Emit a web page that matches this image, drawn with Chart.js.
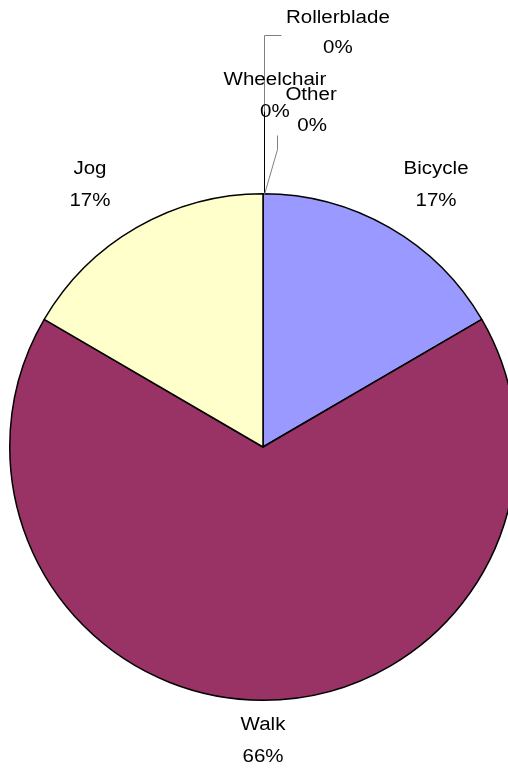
<!DOCTYPE html>
<html>
<head>
<meta charset="utf-8">
<script src="https://cdn.jsdelivr.net/npm/chart.js@4"></script>
<style>
html,body{margin:0;padding:0;background:#fff;overflow:hidden;width:508px;height:773px;}
canvas{display:block;}
</style>
</head>
<body>
<canvas id="c" width="526" height="773"></canvas>
<script>
const categories = ["Bicycle", "Walk", "Jog", "Wheelchair", "Rollerblade", "Other"];
const values = [16.6, 66.8, 16.6, 0, 0, 0];
const percentLabels = ["17%", "66%", "17%", "0%", "0%", "0%"];
const colors = ["#9999FF", "#993366", "#FFFFCC", "#CCFFFF", "#660066", "#FF8080"];

// label placement relative to pie centre, in radius units (name line, value line)
const labelPlacement = [
  {nx: 0.684, ny: -1.098, vx: 0.684, vy: -0.972},
  {nx: 0.0, ny: 1.098, vx: 0.0, vy: 1.225},
  {nx: -0.684, ny: -1.098, vx: -0.684, vy: -0.972},
  {nx: 0.047, ny: -1.451, vx: 0.047, vy: -1.324},
  {nx: 0.296, ny: -1.696, vx: 0.296, vy: -1.577},
  {nx: 0.190, ny: -1.391, vx: 0.194, vy: -1.269}
];
// leader lines (polyline points relative to centre, radius units)
const leaders = [
  {color: "#808080", pts: [[0.004, -1.0], [0.004, -1.628], [0.071, -1.628]]},
  {color: "#000000", pts: [[0.004, -1.0], [0.004, -1.33]]},
  {color: "#808080", pts: [[0.004, -1.0], [0.055, -1.178], [0.055, -1.233]]}
];

const labelPlugin = {
  id: 'excelLabels',
  afterDatasetsDraw(chart) {
    const ctx = chart.ctx;
    const meta = chart.getDatasetMeta(0);
    const arc0 = meta.data[0];
    const cx = arc0.x, cy = arc0.y, r = 253;
    ctx.save();
    leaders.forEach(l => {
      ctx.beginPath();
      ctx.strokeStyle = l.color;
      ctx.lineWidth = 1;
      l.pts.forEach((p, i) => {
        const x = Math.round(cx + p[0] * r) + 0.5, y = Math.round(cy + p[1] * r) + 0.5;
        if (i === 0) ctx.moveTo(x, y); else ctx.lineTo(x, y);
      });
      ctx.stroke();
    });
    ctx.fillStyle = "#000";
    ctx.font = "18px 'Liberation Sans', Arial, sans-serif";
    ctx.textAlign = "center";
    ctx.textBaseline = "middle";
    const put = (t, x, y) => {
      ctx.save();
      ctx.translate(x, y);
      ctx.scale(1.14, 1);
      ctx.fillText(t, 0, 0);
      ctx.restore();
    };
    categories.forEach((c, i) => {
      const p = labelPlacement[i];
      put(c, cx + p.nx * r, cy + p.ny * r);
      put(percentLabels[i], cx + p.vx * r, cy + p.vy * r);
    });
    ctx.restore();
  }
};

new Chart(document.getElementById('c'), {
  type: 'pie',
  data: {
    labels: categories,
    datasets: [{
      data: values,
      backgroundColor: colors,
      borderColor: "#000",
      borderWidth: 1.5
    }]
  },
  options: {
    responsive: false,
    animation: false,
    layout: {padding: {left: 9, right: 9, top: 193, bottom: 72}},
    plugins: {legend: {display: false}, tooltip: {enabled: false}}
  },
  plugins: [labelPlugin]
});
</script>
</body>
</html>
